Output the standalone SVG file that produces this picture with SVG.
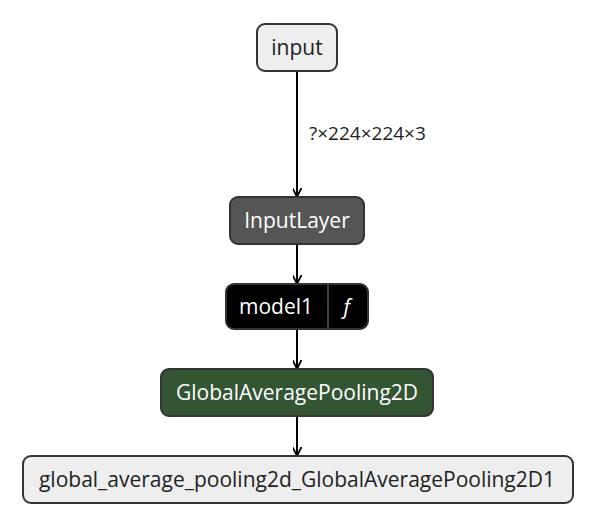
<svg xmlns="http://www.w3.org/2000/svg" width="596" height="526" viewBox="0 0 596 526">
<style>
.t{font-family:"Open Sans","Noto Sans","Liberation Sans",sans-serif;font-size:21px;text-anchor:middle;dominant-baseline:central}
.e{stroke:#000;stroke-width:2;fill:none}
.lab{font-family:"Open Sans","Noto Sans","Liberation Sans",sans-serif;font-size:19px;fill:#222}
</style>
<defs>
<marker id="a" viewBox="0 0 10 10" refX="9" refY="5" markerWidth="9" markerHeight="9" markerUnits="userSpaceOnUse" orient="auto">
<path d="M0,0 L10,5 L0,10" fill="none" stroke="#000" stroke-width="2"/>
</marker>
</defs>
<rect width="596" height="526" fill="#fff"/>
<g id="connectors">
<line class="e" x1="297" y1="71" x2="297" y2="196" marker-end="url(#a)"/>
<text class="lab" x="309" y="140">?×224×224×3</text>
<line class="e" x1="297" y1="244" x2="297" y2="283" marker-end="url(#a)"/>
<line class="e" x1="297" y1="329" x2="297" y2="368" marker-end="url(#a)"/>
<line class="e" x1="297" y1="416" x2="297" y2="455" marker-end="url(#a)"/>
</g>
<g id="input">
<rect x="257" y="24" width="80" height="47" rx="8" fill="#eeeeee" stroke="#333" stroke-width="2"/>
<text class="t" x="297" y="47" fill="#222">input</text>
</g>
<g id="InputLayer">
<rect x="230" y="197" width="134" height="47" rx="8" fill="#555555" stroke="#333" stroke-width="2"/>
<text class="t" x="297" y="220" fill="#fff">InputLayer</text>
</g>
<g id="model1">
<rect x="226" y="284" width="142" height="45" rx="8" fill="#000" stroke="#333" stroke-width="2"/>
<line x1="328" y1="285" x2="328" y2="328" stroke="#555" stroke-width="1.5"/>
<text class="t" x="276" y="306" fill="#fff">model1</text>
<text class="t" x="347" y="306" fill="#fff" font-style="italic">ƒ</text>
</g>
<g id="GlobalAveragePooling2D">
<rect x="161" y="369" width="272" height="47" rx="8" fill="#335533" stroke="#333" stroke-width="2"/>
<text class="t" x="297" y="392" fill="#fff">GlobalAveragePooling2D</text>
</g>
<g id="output">
<rect x="23" y="456" width="550" height="47" rx="8" fill="#eeeeee" stroke="#333" stroke-width="2"/>
<text class="t" x="297" y="479" fill="#222">global_average_pooling2d_GlobalAveragePooling2D1</text>
</g>
</svg>
